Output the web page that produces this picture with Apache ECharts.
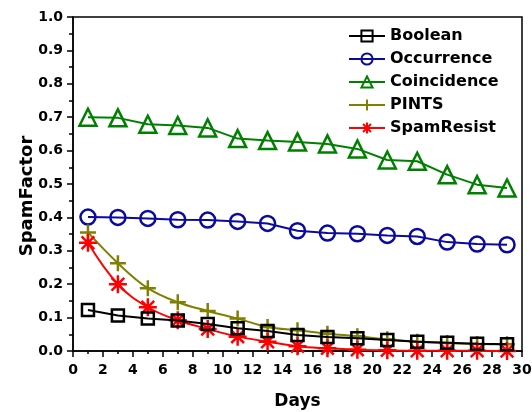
<!DOCTYPE html>
<html>
<head>
<meta charset="utf-8">
<script src="https://cdn.jsdelivr.net/npm/echarts@6/dist/echarts.min.js"></script>
<style>
  html, body { margin: 0; padding: 0; background: #fff; }
  #chart1 { width: 532px; height: 412px; }
</style>
</head>
<body>
<div id="chart1"></div>
<script>
var days = [1, 3, 5, 7, 9, 11, 13, 15, 17, 19, 21, 23, 25, 27, 29];
var boolean = [0.123, 0.106, 0.097, 0.091, 0.081, 0.068, 0.060, 0.048, 0.042, 0.038, 0.033, 0.028, 0.025, 0.022, 0.020];
var occurrence = [0.401, 0.400, 0.397, 0.393, 0.392, 0.388, 0.382, 0.360, 0.353, 0.351, 0.346, 0.343, 0.326, 0.320, 0.318];
var coincidence = [0.700, 0.698, 0.679, 0.675, 0.668, 0.636, 0.630, 0.626, 0.620, 0.605, 0.572, 0.568, 0.528, 0.498, 0.488];
var pints = [0.355, 0.263, 0.188, 0.146, 0.120, 0.097, 0.072, 0.062, 0.052, 0.044, 0.035, 0.028, 0.024, 0.021, 0.020];
var spamResist = [0.324, 0.200, 0.131, 0.092, 0.066, 0.043, 0.028, 0.014, 0.008, 0.004, 0.002, 0.001, 0.001, 0.001, 0.000];

var myChart = echarts.init(document.getElementById('chart1'));

function pairs(arr) {
  return arr.map(function (v, i) { return [days[i], v]; });
}

// asterisk and plus drawn as strokes
var starPath = 'path://M0,-10L0,10M-10,0L10,0M-7.07,-7.07L7.07,7.07M-7.07,7.07L7.07,-7.07';
var plusPath = 'path://M0,-10L0,10M-10,0L10,0';

function makeSeries(name, data, color, symbol, size, smooth, z) {
  return {
    name: name,
    type: 'line',
    data: pairs(data),
    smooth: smooth,
    symbol: symbol,
    symbolSize: size,
    z: z,
    lineStyle: { color: color, width: 2 },
    itemStyle: { color: 'rgba(0,0,0,0)', borderColor: color, borderWidth: 2.5 },
    emphasis: { disabled: true }
  };
}

var font = 'DejaVu Sans';

option = {
  animation: false,
  grid: {
    left: 73, right: 10, top: 17, bottom: 61,
    outerBoundsMode: 'none',
    containLabel: false,
    show: true, borderColor: '#000', borderWidth: 1.5
  },
  legend: {
    orient: 'vertical',
    left: 343,
    top: 23,
    itemWidth: 36,
    itemHeight: 14,
    itemGap: 7,
    textStyle: { fontFamily: font, fontWeight: 'bold', fontSize: 16, color: '#000' },
    data: ['Boolean', 'Occurrence', 'Coincidence', 'PINTS', 'SpamResist']
  },
  xAxis: {
    type: 'value',
    min: 0, max: 30, interval: 2,
    name: 'Days',
    nameLocation: 'middle',
    nameGap: 42,
    nameTextStyle: { fontFamily: font, fontWeight: 'bold', fontSize: 17, color: '#000' },
    axisLine: { lineStyle: { color: '#000', width: 1.5 } },
    axisTick: { length: 6, lineStyle: { color: '#000', width: 1.5 } },
    minorTick: { show: true, splitNumber: 2, length: 3, lineStyle: { color: '#000', width: 1.5 } },
    splitLine: { show: false },
    axisLabel: { margin: 12, fontFamily: font, fontWeight: 'bold', fontSize: 14, color: '#000' }
  },
  yAxis: {
    type: 'value',
    min: 0, max: 1, interval: 0.1,
    name: 'SpamFactor',
    nameLocation: 'middle',
    nameGap: 37,
    nameMoveOverlap: false,
    nameTextStyle: { fontFamily: font, fontWeight: 'bold', fontSize: 18, color: '#000', padding: [0, 24, 0, 0] },
    axisLine: { show: true, lineStyle: { color: '#000', width: 1.5 } },
    axisTick: { show: true, length: 6, lineStyle: { color: '#000', width: 1.5 } },
    minorTick: { show: true, splitNumber: 2, length: 4, lineStyle: { color: '#000', width: 1.5 } },
    splitLine: { show: false },
    axisLabel: {
      margin: 10, fontFamily: font, fontWeight: 'bold', fontSize: 14, color: '#000',
      formatter: function (v) { return v.toFixed(1); }
    }
  },
  series: [
    makeSeries('Coincidence', coincidence, '#008000', 'triangle', 17, false, 2),
    makeSeries('Occurrence', occurrence, '#0a0aa0', 'circle', 15, false, 3),
    makeSeries('PINTS', pints, '#808000', plusPath, 16, 0.4, 4),
    makeSeries('SpamResist', spamResist, '#ff0000', starPath, 18, 0.4, 5),
    makeSeries('Boolean', boolean, '#000000', 'rect', 12, false, 6)
  ]
};
myChart.setOption(option);
</script>
</body>
</html>
